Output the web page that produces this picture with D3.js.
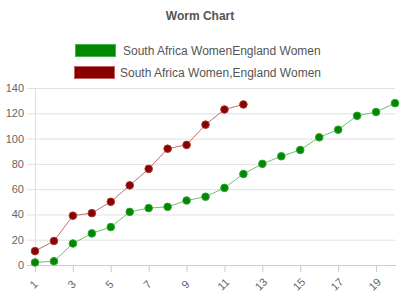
<!DOCTYPE html>
<html>
<head>
<meta charset="utf-8">
<script src="https://cdn.jsdelivr.net/npm/d3@7"></script>
<style>
  body { margin: 0; background: #fff; }
  svg { display: block; font-family: "Liberation Sans", Arial, sans-serif; }
</style>
</head>
<body>
<svg width="400" height="300"></svg>
<script>
// Overs and cumulative runs for each side
const overs = d3.range(1, 21);
const greenName = "South Africa WomenEngland Women";
const redName = "South Africa Women,England Women";
const greenRuns = [2, 3, 17, 25, 30, 42, 45, 46, 51, 54, 61, 72, 80, 86, 91, 101, 107, 118, 121, 128];
const redRuns = [11, 19, 39, 41, 50, 63, 76, 92, 95, 111, 123, 127];
const yTicks = [0, 20, 40, 60, 80, 100, 120, 140];
const xTicks = [1, 3, 5, 7, 9, 11, 13, 15, 17, 19];

const svg = d3.select("svg");

// Scales
const x = d3.scaleLinear().domain([1, 20]).range([35, 395]);
const y = d3.scaleLinear().domain([0, 140]).range([265, 88]);

// Title
svg.append("text")
  .attr("x", 200).attr("y", 20)
  .attr("text-anchor", "middle")
  .style("font-size", "12px").style("font-weight", "bold")
  .style("fill", "#555")
  .text("Worm Chart");

// Legend
const legend = [
  { name: greenName, fill: "#008800", stroke: "#4caf50", x: 75, y: 44, tx: 123, ty: 55 },
  { name: redName, fill: "#880000", stroke: "#c06060", x: 74, y: 66, tx: 120, ty: 77 }
];
legend.forEach(l => {
  svg.append("rect")
    .attr("x", l.x + 0.5).attr("y", l.y + 0.5)
    .attr("width", 40).attr("height", 12)
    .style("fill", l.fill).style("stroke", l.stroke);
  svg.append("text")
    .attr("x", l.tx).attr("y", l.ty)
    .style("font-size", "12px").style("fill", "#555")
    .text(l.name);
});

// Y gridlines and labels
const yAxis = svg.append("g")
  .attr("transform", "translate(27,0)")
  .call(d3.axisRight(y).tickValues(yTicks).tickSize(368).tickFormat(d3.format("d")));
yAxis.select(".domain").remove();
yAxis.selectAll(".tick line").attr("stroke", "#e0e0e0");
yAxis.selectAll(".tick text")
  .attr("x", -3).attr("dy", "0.32em")
  .attr("text-anchor", "end")
  .style("font-size", "11px").style("fill", "#666");

// Y axis line
svg.append("line")
  .attr("x1", 35.5).attr("x2", 35.5)
  .attr("y1", y(140)).attr("y2", y(0))
  .attr("stroke", "#e0e0e0");

// X axis
const xAxis = svg.append("g")
  .attr("transform", `translate(0,${y(0)})`)
  .call(d3.axisBottom(x).tickValues(xTicks).tickSize(7).tickSizeOuter(0).tickFormat(d3.format("d")));
xAxis.select(".domain").attr("stroke", "#ccc").attr("d", "M27,0.5H396");
xAxis.selectAll(".tick line").attr("stroke", "#ccc");
xAxis.selectAll(".tick text")
  .attr("y", 0).attr("dy", 0)
  .attr("text-anchor", "middle")
  .attr("transform", "translate(1,22) rotate(-45)")
  .style("font-size", "11px").style("fill", "#666");

// Series lines and markers
const line = d3.line().x((d, i) => x(overs[i])).y(d => y(d));
const series = [
  { values: greenRuns, fill: "#008800", stroke: "#6cc26c", ring: "#33a033" },
  { values: redRuns, fill: "#880000", stroke: "#c07070", ring: "#a83333" }
];
series.forEach(s => {
  svg.append("path")
    .datum(s.values)
    .attr("d", line)
    .style("fill", "none").style("stroke", s.stroke).style("stroke-width", 1);
  svg.selectAll(null)
    .data(s.values)
    .enter().append("circle")
    .attr("cx", (d, i) => x(overs[i]))
    .attr("cy", d => y(d))
    .attr("r", 3.8)
    .style("fill", s.fill).style("stroke", s.ring).style("stroke-width", 1);
});
</script>
</body>
</html>
